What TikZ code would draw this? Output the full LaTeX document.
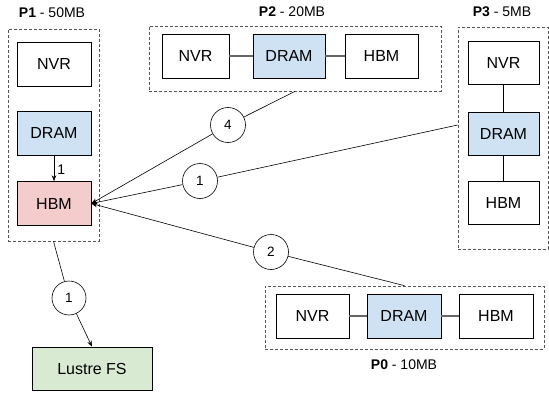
\documentclass[tikz,border=0pt]{standalone}
\usepackage{fontspec}
\setmainfont{Liberation Sans}
\usetikzlibrary{arrows.meta}
\definecolor{dramc}{HTML}{CFE2F3}
\definecolor{hbmc}{HTML}{F4CCCC}
\definecolor{lusc}{HTML}{D9EAD3}
\definecolor{dashc}{HTML}{555555}
\definecolor{linkc}{HTML}{666666}
\begin{document}
\begin{tikzpicture}[x=1pt,y=-1pt,
  mem/.style={draw=black, line width=0.6pt, minimum height=44pt, inner sep=0pt, font=\fontsize{16}{16}\selectfont},
  grp/.style={draw=dashc, line width=0.7pt, dash pattern=on 3pt off 2pt, inner sep=0pt},
  num/.style={draw=black, line width=0.6pt, circle, minimum size=35pt, inner sep=0pt, font=\fontsize{13.5}{13.5}\selectfont},
  ttl/.style={font=\fontsize{14}{14}\selectfont, inner sep=0pt},
  link/.style={draw=linkc, line width=1.1pt},
  conn/.style={draw=black, line width=0.6pt},
  arr/.style={conn, -{Stealth[length=6pt,width=4.5pt]}}]
\useasboundingbox (0,0) rectangle (549,396);
% group boxes
\node[grp, minimum width=91pt, minimum height=212pt] (p1) at (53.5,135) {};
\node[grp, minimum width=292pt, minimum height=65pt] (p2) at (295,58.5) {};
\node[grp, minimum width=90pt, minimum height=222pt] (p3) at (503,138) {};
\node[grp, minimum width=279pt, minimum height=63pt] (p0) at (404.5,317.5) {};
% titles
\node[ttl] (t1) at (52,13) {\textbf{P1} - 50MB};
\node[ttl] (t2) at (292,12) {\textbf{P2} - 20MB};
\node[ttl] (t3) at (502,12) {\textbf{P3} - 5MB};
\node[ttl] (t0) at (404,365) {\textbf{P0} - 10MB};
% P1
\node[mem, minimum width=74pt] (n1) at (54,64) {NVR};
\node[mem, minimum width=74pt, fill=dramc] (d1) at (54,133) {DRAM};
\node[mem, minimum width=74pt, fill=hbmc] (h1) at (54,203.5) {HBM};
% P2
\node[mem, minimum width=67pt] (n2) at (195.5,56) {NVR};
\node[mem, minimum width=72pt, fill=dramc] (d2) at (289,56) {DRAM};
\node[mem, minimum width=73pt] (h2) at (381.5,56) {HBM};
% P3
\node[mem, minimum width=71pt, minimum height=43pt] (n3) at (503.5,62.5) {NVR};
\node[mem, minimum width=71pt, minimum height=43pt, fill=dramc] (d3) at (503.5,133.5) {DRAM};
\node[mem, minimum width=71pt, minimum height=43pt] (h3) at (503.5,203) {HBM};
% P0
\node[mem, minimum width=73pt] (n0) at (312.5,316) {NVR};
\node[mem, minimum width=74pt, fill=dramc] (d0) at (404,316) {DRAM};
\node[mem, minimum width=74pt] (h0) at (496,316) {HBM};
% Lustre
\node[mem, minimum width=120pt, minimum height=43pt, fill=lusc] (lus) at (92,368.5) {Lustre FS};
% circles
\node[num] (c4) at (228,125) {4};
\node[num] (c1) at (200,181) {1};
\node[num] (c2) at (271,252) {2};
\node[num, minimum size=34pt] (c5) at (69,298) {1};
% internal links
\draw[link] (n2) -- (d2);
\draw[link] (d2) -- (h2);
\draw[link] (n0) -- (d0);
\draw[link] (d0) -- (h0);
\draw[conn] (n3) -- (d3);
\draw[conn] (d3) -- (h3);
% transfers
\draw[arr] (d1) -- node[right, font=\fontsize{14}{14}\selectfont, inner sep=3pt, yshift=-1pt] {1} (h1);
\draw[conn] (p2.south) -- (c4);
\draw[arr] (c4) -- (h1.east);
\draw[conn] ([yshift=13pt]p3.west) -- (c1);
\draw[arr] (c1) -- (h1.east);
\draw[conn] (p0.north) -- (c2);
\draw[arr] (c2) -- (h1.east);
\draw[conn] (p1.south) -- (c5);
\draw[arr] (c5) -- (lus.north);
\end{tikzpicture}
\end{document}
